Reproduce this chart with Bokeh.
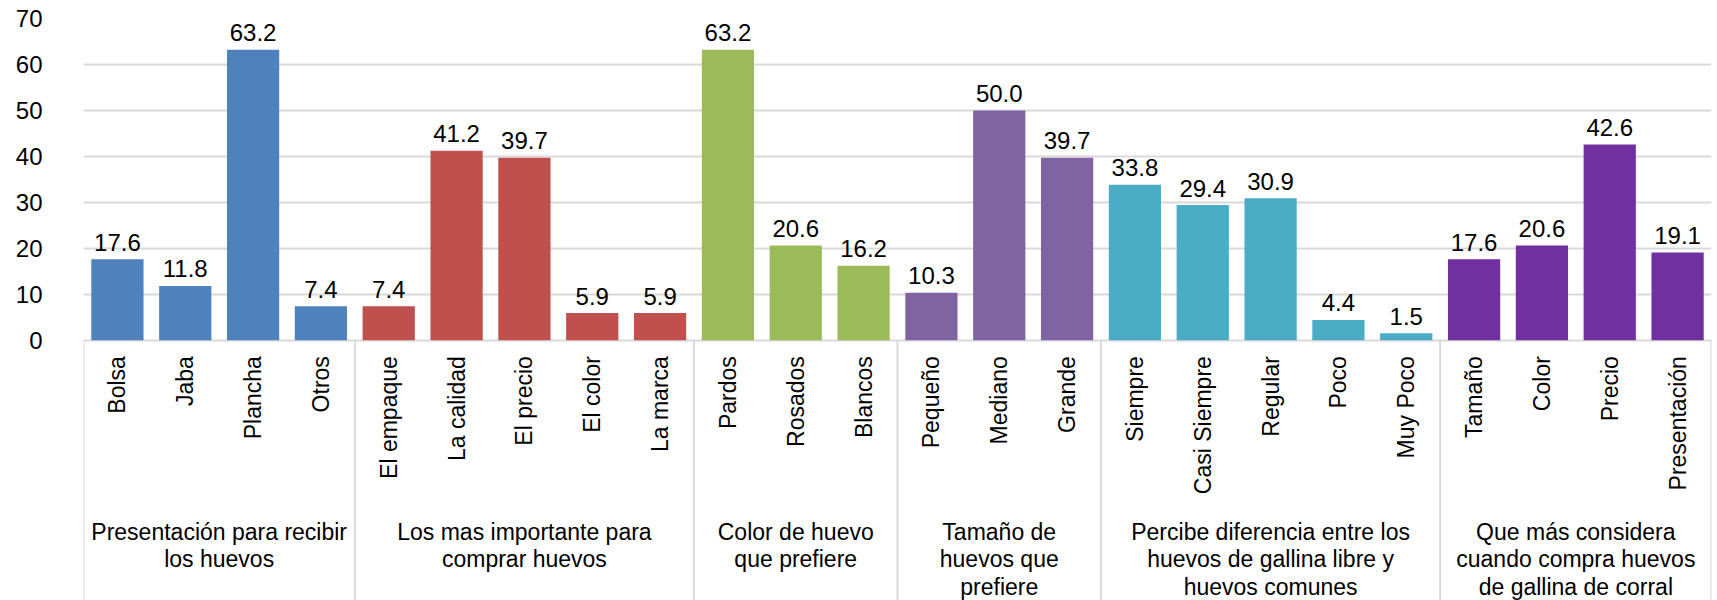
from bokeh.plotting import figure
from bokeh.models import ColumnDataSource, Range1d, FixedTicker
from bokeh.core.properties import value
from bokeh.embed import file_html
from bokeh.resources import INLINE

# ---- data ----
group_names = [
    "Presentación para recibir\nlos huevos",
    "Los mas importante para\ncomprar huevos",
    "Color de huevo\nque prefiere",
    "Tamaño de\nhuevos que\nprefiere",
    "Percibe diferencia entre los\nhuevos de gallina libre y\nhuevos comunes",
    "Que más considera\ncuando compra huevos\nde gallina de corral",
]
group_colors = ["#4F81BD", "#C0504D", "#9BBB59", "#8064A2", "#4BACC6", "#7030A0"]

cats_presentacion = ["Bolsa", "Jaba", "Plancha", "Otros"]
vals_presentacion = [17.6, 11.8, 63.2, 7.4]
cats_importante = ["El empaque", "La calidad", "El precio", "El color", "La marca"]
vals_importante = [7.4, 41.2, 39.7, 5.9, 5.9]
cats_color = ["Pardos", "Rosados", "Blancos"]
vals_color = [63.2, 20.6, 16.2]
cats_tamano = ["Pequeño", "Mediano", "Grande"]
vals_tamano = [10.3, 50.0, 39.7]
cats_percibe = ["Siempre", "Casi Siempre", "Regular", "Poco", "Muy Poco"]
vals_percibe = [33.8, 29.4, 30.9, 4.4, 1.5]
cats_considera = ["Tamaño", "Color", "Precio", "Presentación"]
vals_considera = [17.6, 20.6, 42.6, 19.1]

y_ticks = [0, 10, 20, 30, 40, 50, 60, 70]

group_cats = [cats_presentacion, cats_importante, cats_color, cats_tamano, cats_percibe, cats_considera]
group_vals = [vals_presentacion, vals_importante, vals_color, vals_tamano, vals_percibe, vals_considera]

# ---- build tables ----
xs, tops, labels, cats, colors = [], [], [], [], []
bounds = [0]
gx = []
i = 0
for g, (cs, vs) in enumerate(zip(group_cats, group_vals)):
    start = i
    for c, v in zip(cs, vs):
        xs.append(i + 0.5)
        tops.append(v)
        labels.append(f"{v:.1f}")
        cats.append(c)
        colors.append(group_colors[g])
        i += 1
    bounds.append(i)
    gx.append((start + i) / 2)

n = i
bar_src = ColumnDataSource(dict(x=xs, top=tops, label=labels, cat=cats, color=colors, zero=[0] * n))
grp_src = ColumnDataSource(dict(x=gx, name=group_names, zero=[0] * len(gx)))

FONT = "Liberation Sans"
ymin = -56.65
p = figure(width=1717, height=600, output_backend="svg", toolbar_location=None,
           x_range=Range1d(0, n), y_range=Range1d(ymin, 70),
           x_axis_location=None, min_border_left=83, min_border_right=6,
           min_border_top=18, min_border_bottom=0)
p.outline_line_color = None
p.background_fill_color = "white"
p.border_fill_color = "white"

p.yaxis.ticker = FixedTicker(ticks=y_ticks)
p.yaxis.axis_line_color = None
p.yaxis.major_tick_line_color = None
p.yaxis.minor_tick_line_color = None
p.yaxis.major_tick_out = 0
p.yaxis.major_label_standoff = 41
p.yaxis.major_label_text_font = FONT
p.yaxis.major_label_text_font_size = "24px"
p.yaxis.major_label_text_color = "#000000"

p.xgrid.visible = False
p.ygrid.ticker = FixedTicker(ticks=y_ticks)
p.ygrid.grid_line_color = "#D9D9D9"
p.ygrid.grid_line_width = 2

# separators between groups below the axis
sep_src = ColumnDataSource(dict(x=bounds, y0=[0] * len(bounds), y1=[ymin] * len(bounds)))
p.segment(x0="x", y0="y0", x1="x", y1="y1", source=sep_src, line_color="#D9D9D9", line_width=2)

p.vbar(x="x", top="top", bottom="zero", width=0.77, source=bar_src, fill_color="color", line_color=None)

# value labels
p.text(x="x", y="top", text="label", source=bar_src, text_align="center", text_baseline="alphabetic",
       y_offset=-17, text_font=value(FONT), text_font_size="24px", text_color="#000000")

# category labels (rotated)
p.text(x="x", y="zero", text="cat", source=bar_src, angle=1.5708, text_align="right", text_baseline="middle",
       y_offset=16, text_font=value(FONT), text_font_size="23px", text_color="#000000")

# group labels
p.text(x="x", y="zero", text="name", source=grp_src, text_align="center", text_baseline="top",
       y_offset=179, text_font=value(FONT), text_font_size="23px", text_color="#000000",
       text_line_height=1.05)

open("out.html", "w").write(file_html(p, INLINE))
